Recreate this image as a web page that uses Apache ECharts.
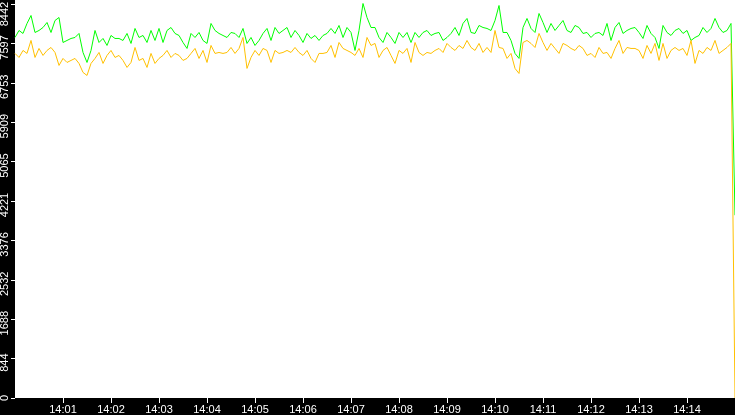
<!DOCTYPE html>
<html>
<head>
<meta charset="utf-8">
<script src="https://cdn.jsdelivr.net/npm/echarts@6/dist/echarts.min.js"></script>
<style>
  html, body { margin: 0; padding: 0; background: #000; }
  #chart { width: 735px; height: 415px; }
</style>
</head>
<body>
<div id="chart"></div>
<script>
// samples every 5 s from 14:00:00, last one at 14:15:00
const stepSeconds = 5;

const greenValues = [
  7725, 7875, 7811, 8025, 8196, 7832, 7875, 7939, 8046, 7832, 8089, 8153, 7618, 7661, 7704, 7725, 7811, 7404, 7190, 7447, 7875, 7618, 7704, 7554, 7768, 7704,
  7704, 7661, 7811, 7597, 7918, 7725, 7768, 7618, 7875, 7661, 7918, 7618, 7875, 7939, 7811, 7768, 7618, 7490, 7811, 7725, 7832, 7661, 7597, 8025, 7875, 7811,
  7768, 7725, 7832, 7811, 7725, 7918, 7597, 7725, 7554, 7661, 7811, 7918, 7661, 7939, 7811, 7875, 7939, 7725, 7875, 7768, 7618, 7811, 7704, 7768, 7661, 7768,
  7811, 7918, 7811, 7982, 7725, 7939, 7832, 7447, 7875, 8453, 8153, 7939, 7939, 7725, 7618, 7832, 7725, 7597, 7832, 7725, 7832, 7618, 7832, 7725, 7832, 7875,
  7768, 7811, 7832, 7661, 7725, 7811, 7939, 7768, 8025, 8132, 7832, 7811, 7982, 7939, 7918, 7875, 8089, 8410, 7832, 7832, 7661, 7383, 7276, 7939, 8132,
  7918, 7832, 8239, 8046, 7832, 8025, 7875, 7982, 8089, 7875, 7832, 7982, 7939, 7811, 7832, 7725, 7811, 7832, 7768, 8025, 7661, 7939, 8046, 7811, 7875, 7918,
  7939, 7832, 7704, 7982, 7811, 7725, 7490, 7982, 7832, 7768, 7875, 7918, 7811, 7875, 7661, 7725, 7768, 7939, 7832, 7918, 8132, 7939, 7832, 7875, 8025,
  3916
];

const orangeValues = [
  7383, 7297, 7447, 7383, 7661, 7297, 7490, 7340, 7447, 7511, 7404, 7126, 7276, 7190, 7233, 7276, 7169, 6976, 6911, 7169, 7276, 7404, 7169, 7340, 7447, 7297,
  7340, 7233, 7083, 7190, 7511, 7233, 7276, 7083, 7383, 7169, 7276, 7340, 7447, 7297, 7383, 7340, 7233, 7276, 7383, 7490, 7276, 7447, 7190, 7554, 7383, 7404,
  7383, 7404, 7511, 7383, 7490, 7725, 7062, 7297, 7447, 7340, 7490, 7447, 7190, 7447, 7383, 7404, 7447, 7404, 7511, 7404, 7340, 7447, 7276, 7190, 7383, 7383,
  7404, 7554, 7297, 7618, 7490, 7447, 7404, 7340, 7490, 7297, 7725, 7554, 7597, 7297, 7447, 7511, 7340, 7169, 7447, 7383, 7490, 7190, 7618, 7404, 7340, 7404,
  7383, 7447, 7490, 7404, 7597, 7511, 7447, 7554, 7490, 7661, 7511, 7447, 7597, 7404, 7511, 7404, 7875, 7511, 7490, 7276, 7383, 7062, 6954, 7618, 7661,
  7597, 7511, 7811, 7618, 7447, 7597, 7490, 7383, 7597, 7554, 7490, 7447, 7554, 7490, 7340, 7383, 7297, 7511, 7383, 7404, 7276, 7490, 7661, 7383, 7511, 7490,
  7490, 7447, 7276, 7554, 7383, 7597, 7233, 7597, 7276, 7447, 7511, 7447, 7490, 7340, 7661, 7169, 7447, 7383, 7511, 7447, 7661, 7383, 7447, 7511, 7597,
  0
];

const xTickSeconds = [60, 120, 180, 240, 300, 360, 420, 480, 540, 600, 660, 720, 780, 840];
const xTickLabels = ['14:01', '14:02', '14:03', '14:04', '14:05', '14:06', '14:07',
  '14:08', '14:09', '14:10', '14:11', '14:12', '14:13', '14:14'];

const yTickValues = [0, 844.2, 1688.4, 2532.6, 3376.8, 4221, 5065.2, 5909.4, 6753.6, 7597.8, 8442];
const yTickLabels = ['0', '844', '1688', '2532', '3376', '4221', '5065', '5909', '6753', '7597', '8442'];

const toPairs = (vals) => vals.map((v, i) => [i * stepSeconds, v]);

const labelFont = { color: '#fff', fontFamily: 'Liberation Sans', fontSize: 11 };

const chart = echarts.init(document.getElementById('chart'), null, { renderer: 'canvas' });

const option = {
  backgroundColor: '#000',
  animation: false,
  grid: {
    left: 15,
    right: 0,
    top: 0,
    bottom: 17,
    outerBoundsMode: 'none',
    containLabel: false,
    show: true,
    backgroundColor: '#fff',
    borderWidth: 0
  },
  xAxis: {
    type: 'value',
    min: 0,
    max: 900,
    splitLine: { show: false },
    axisLine: { show: false },
    axisTick: {
      show: true,
      length: 5,
      customValues: xTickSeconds,
      lineStyle: { color: '#fff', width: 1 }
    },
    axisLabel: {
      ...labelFont,
      margin: 6,
      customValues: xTickSeconds,
      formatter: (v) => xTickLabels[xTickSeconds.indexOf(v)]
    }
  },
  yAxis: {
    type: 'value',
    min: 0,
    max: 8528,
    splitLine: { show: false },
    axisLine: { show: false },
    axisTick: {
      show: true,
      length: 4,
      customValues: yTickValues,
      lineStyle: { color: '#fff', width: 1 }
    },
    axisLabel: {
      ...labelFont,
      rotate: 90,
      margin: 5,
      customValues: yTickValues,
      formatter: (v) => {
        const i = yTickValues.indexOf(v);
        // top label is pushed down so it stays inside the chart
        if (i === 0) return '{z|' + yTickLabels[i] + '}';
        return (i === yTickValues.length - 1 ? '{top|' : '{n|') + yTickLabels[i] + '}';
      },
      rich: {
        z: { ...labelFont },
        n: { ...labelFont, padding: [0, 8, 0, 0] },
        top: { ...labelFont, padding: [0, 20, 0, 0] }
      }
    }
  },
  series: [
    {
      name: 'green',
      type: 'line',
      data: toPairs(greenValues),
      showSymbol: false,
      lineStyle: { color: '#00ff00', width: 1 },
      itemStyle: { color: '#00ff00' }
    },
    {
      name: 'orange',
      type: 'line',
      data: toPairs(orangeValues),
      showSymbol: false,
      lineStyle: { color: '#ffc000', width: 1 },
      itemStyle: { color: '#ffc000' }
    }
  ]
};

chart.setOption(option);
</script>
</body>
</html>
